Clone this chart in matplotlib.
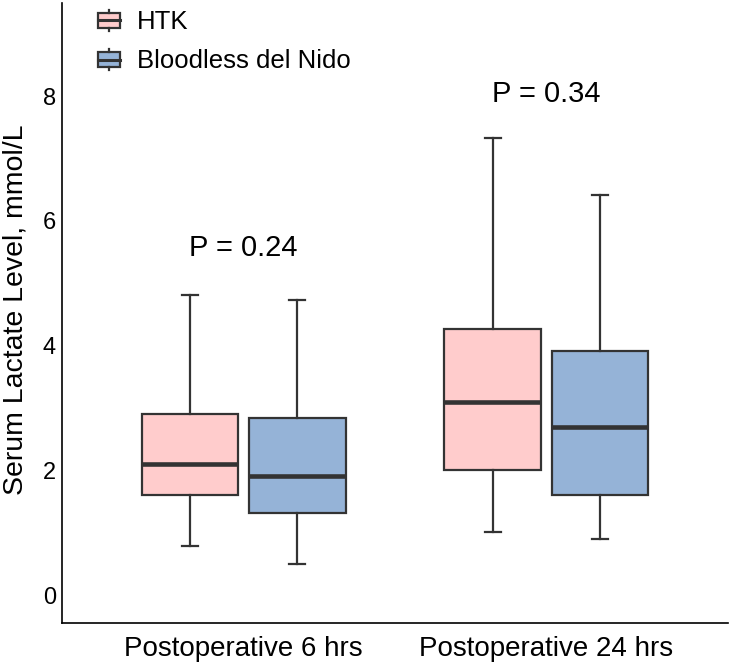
import matplotlib
matplotlib.use("Agg")
import matplotlib.pyplot as plt
from matplotlib.legend_handler import HandlerBase
from matplotlib.patches import Rectangle
from matplotlib.lines import Line2D

plt.rcParams['font.family'] = ['Liberation Sans', 'DejaVu Sans']

categories = ["Postoperative 6 hrs", "Postoperative 24 hrs"]
groups = ["HTK", "Bloodless del Nido"]
colors = ["#FFCCCC", "#95B3D7"]
# [whislo, q1, median, q3, whishi] per category
htk = [[0.80, 1.61, 2.10, 2.90, 4.81], [1.01, 2.01, 3.10, 4.27, 7.32]]
bdn = [[0.50, 1.32, 1.91, 2.84, 4.73], [0.90, 1.61, 2.70, 3.92, 6.42]]
pvalues = ["P = 0.24", "P = 0.34"]
p_y = [5.56, 8.04]

edge = "#333333"
fig = plt.figure(figsize=(7.32, 6.63), dpi=100)
ax = fig.add_axes([62/732, 40/663, (728-62)/732, (623-3)/663])

offsets = [-0.177, 0.177]
for gi, (data, col) in enumerate(zip([htk, bdn], colors)):
    stats = []
    for s in data:
        stats.append(dict(whislo=s[0], q1=s[1], med=s[2], q3=s[3], whishi=s[4], fliers=[]))
    pos = [i + offsets[gi] for i in range(len(categories))]
    ax.bxp(stats, positions=pos, widths=0.32, capwidths=0.052, showfliers=False,
           patch_artist=True, manage_ticks=False,
           boxprops=dict(facecolor=col, edgecolor=edge, linewidth=1.6),
           whiskerprops=dict(color=edge, linewidth=1.6),
           capprops=dict(color=edge, linewidth=1.6),
           medianprops=dict(color=edge, linewidth=3.3, solid_capstyle='butt'))

for i, (t, y) in enumerate(zip(pvalues, p_y)):
    ax.text(i, y, t, ha='center', va='center', fontsize=21, color='black')

ax.set_xlim(-0.6, 1.6)
ax.set_ylim(-0.44, 9.49)
ax.set_xticks(range(len(categories)))
ax.set_xticklabels(categories, fontsize=20)
ax.set_yticks([0, 2, 4, 6, 8])
ax.tick_params(axis='y', length=0, pad=4.5, labelsize=17)
ax.tick_params(axis='x', length=0, pad=9)
for s in ['top', 'right']:
    ax.spines[s].set_visible(False)
for s in ['left', 'bottom']:
    ax.spines[s].set_linewidth(1.2)
    ax.spines[s].set_color('black')
ax.set_ylabel("Serum Lactate Level, mmol/L", fontsize=20.5)
ax.yaxis.set_label_coords(-0.05, 0.505)


class BoxHandler(HandlerBase):
    def __init__(self, face):
        super().__init__()
        self.face = face

    def create_artists(self, legend, orig_handle, xdescent, ydescent, width, height, fontsize, trans):
        stub = height * 0.16
        r = Rectangle((-xdescent, -ydescent + stub), width, height - 2 * stub,
                      facecolor=self.face, edgecolor=edge, linewidth=1.6, transform=trans)
        cx = -xdescent + width / 2
        cy = -ydescent + height / 2
        med = Line2D([-xdescent, -xdescent + width], [cy, cy], color=edge, linewidth=2.2, transform=trans)
        w1 = Line2D([cx, cx], [-ydescent, -ydescent + stub], color=edge, linewidth=1.6, transform=trans)
        w2 = Line2D([cx, cx], [-ydescent + height - stub, -ydescent + height], color=edge, linewidth=1.6, transform=trans)
        return [r, med, w1, w2]


handles = [Rectangle((0, 0), 1, 1, facecolor=c) for c in colors]
leg = ax.legend(handles, groups, loc='upper left', bbox_to_anchor=(90/732, 1 - 2/663),
                bbox_transform=fig.transFigure, frameon=False, fontsize=18.5,
                handler_map={handles[0]: BoxHandler(colors[0]), handles[1]: BoxHandler(colors[1])},
                handlelength=0.86, handleheight=0.9, handletextpad=0.65, labelspacing=0.57,
                borderpad=0.3, borderaxespad=0)

fig.savefig("out.png", dpi=100)
